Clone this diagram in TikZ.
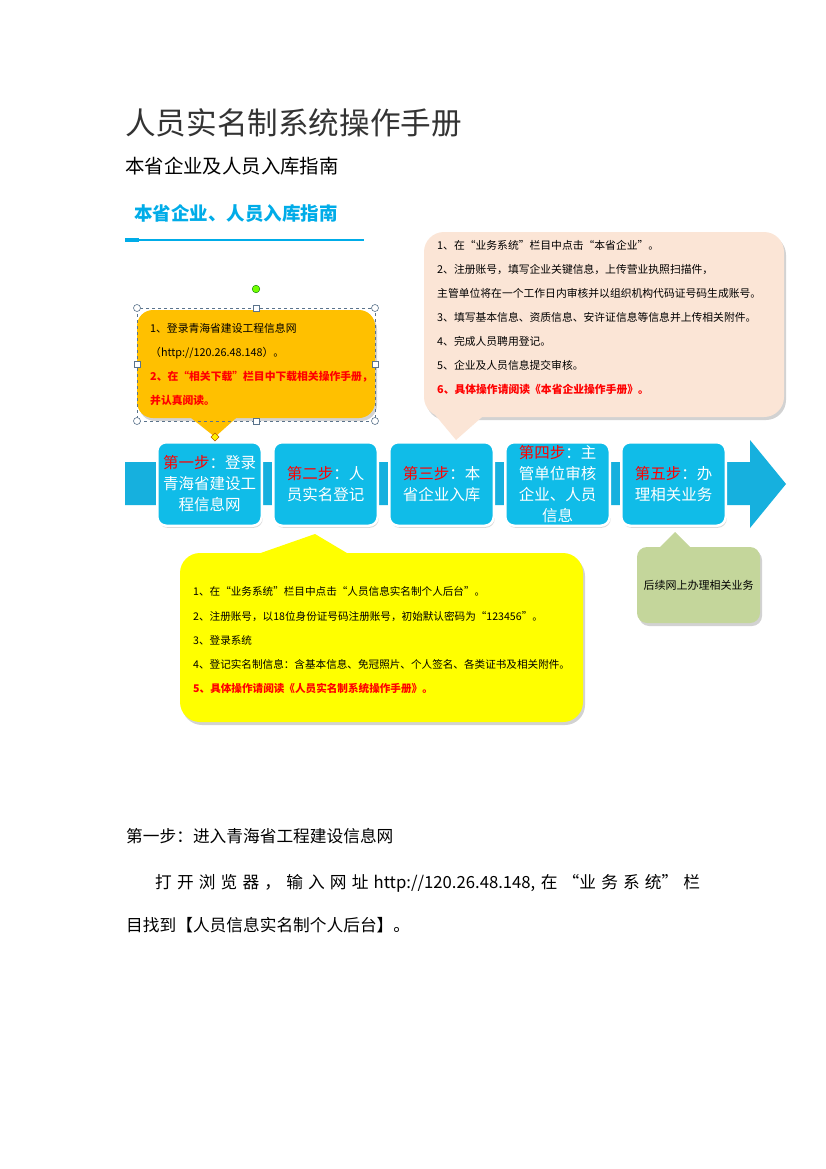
\documentclass[tikz,border=0pt]{standalone}
\usepackage{fontspec}
\setmainfont{Noto Sans CJK SC}
\usetikzlibrary{shadows,positioning}

\definecolor{headblue}{RGB}{0,172,232}
\definecolor{bandblue}{RGB}{22,176,222}
\definecolor{stepblue}{RGB}{16,188,232}
\definecolor{bubbleorange}{RGB}{255,192,0}
\definecolor{bubblepeach}{RGB}{251,229,214}
\definecolor{bubbleyellow}{RGB}{255,255,0}
\definecolor{bubblegreen}{RGB}{196,214,155}
\definecolor{framegrey}{RGB}{90,115,140}

\newcommand\stepno[1]{\textcolor{red}{#1}}
\newcommand\redline[1]{\textcolor{red}{\bfseries #1}}

\tikzset{
  stepbox/.style={rounded corners=9pt, fill=stepblue, draw=white, line width=2.5pt,
    minimum width=104.5pt, minimum height=83.5pt, inner sep=1pt, align=center, text=white,
    font=\fontsize{15.5}{21}\selectfont,
    drop shadow={shadow xshift=1pt, shadow yshift=-2pt, opacity=.3}},
  bubble/.style={rounded corners=16pt, inner sep=0pt,
    drop shadow={shadow xshift=2pt, shadow yshift=-3pt, opacity=.35}},
  bubbletext/.style={anchor=north west, inner sep=0pt, align=left,
    font=\fontsize{10.8}{24}\selectfont},
  handle/.style={framegrey, fill=white, line width=.6pt}
}

\begin{document}
\begin{tikzpicture}[x=1pt,y=-1pt]
  % Page
  \useasboundingbox (0,0) rectangle (826,1169);
  \fill[white] (0,0) rectangle (826,1169);

  % Headings
  \node[anchor=west, inner sep=0pt, text=black!80, font=\fontsize{30.6}{30.6}\selectfont] (title) at (125,123) {人员实名制系统操作手册};
  \node[anchor=west, inner sep=0pt, font=\fontsize{19.4}{19.4}\selectfont] (subtitle) at (125,166) {本省企业及人员入库指南};
  \node[anchor=west, inner sep=0pt, text=headblue, font=\fontsize{18.5}{18.5}\selectfont\bfseries] (heading) at (134,213) {本省企业、人员入库指南};
  \draw[headblue, line width=1.2pt] (125,240) -- (364,240);
  \fill[headblue] (125,238) rectangle (139,242);

  % Flow band
  \fill[bandblue] (125,462) -- (750,462) -- (750,440) -- (786,484) -- (750,528) -- (750,505) -- (125,505) -- cycle;

  % Steps
  \node[stepbox] (s1) at (209.5,484) {\stepno{第一步}：登录\\青海省建设工\\程信息网};
  \node[stepbox, right=9pt of s1] (s2) {\stepno{第二步}：人\\员实名登记};
  \node[stepbox, right=9pt of s2] (s3) {\stepno{第三步}：本\\省企业入库};
  \node[stepbox, right=9pt of s3] (s4) {\stepno{第四步}：主\\管单位审核\\企业、人员\\信息};
  \node[stepbox, right=9pt of s4] (s5) {\stepno{第五步}：办\\理相关业务};

  % Step 1 callout
  \node[bubble, fill=bubbleorange, minimum width=238pt, minimum height=108pt] (orangebox) at (256,364) {};
  \coordinate (orangetip) at (215,437);
  \fill[bubbleorange] (181,410) -- (orangetip) -- (245,410) -- cycle;
  \node[bubbletext] (orangetext) at (150,323.5) {1、登录青海省建设工程信息网\\（http://120.26.48.148）。\\\redline{2、在“相关下载”栏目中下载相关操作手册，}\\\redline{并认真阅读。}};

  % selection frame
  \draw[framegrey, dashed, line width=.6pt] (137,308) rectangle (375,421);
  \foreach \p in {(137,308),(375,308),(137,421),(375,421)}
    \draw[handle] \p circle (3.5pt);
  \foreach \p in {(256,308),(256,421),(137,364.5),(375,364.5)}
    \draw[handle] \p ++(-3,-3) rectangle ++(6,6);
  \draw[green!45!black, fill=green!55!yellow, line width=.4pt] (256,289) circle (3.8pt);
  \draw[orange!70!black, fill=yellow, line width=.4pt] (orangetip) ++(0,-4) -- ++(4,4) -- ++(-4,4) -- ++(-4,-4) -- cycle;

  % Step 3 callout
  \node[bubble, fill=bubblepeach, rounded corners=20pt, minimum width=360pt, minimum height=185pt] (peachbox) at (604,324.5) {};
  \coordinate (peachtip) at (456,440);
  \fill[bubblepeach] (431,410) -- (peachtip) -- (490,410) -- cycle;
  \node[bubbletext] (peachtext) at (437,240.5) {1、在“业务系统”栏目中点击“本省企业”。\\2、注册账号，填写企业关键信息，上传营业执照扫描件，\\主管单位将在一个工作日内审核并以组织机构代码证号码生成账号。\\3、填写基本信息、资质信息、安许证信息等信息并上传相关附件。\\4、完成人员聘用登记。\\5、企业及人员信息提交审核。\\\redline{6、具体操作请阅读《本省企业操作手册》。}};

  % Step 2 callout
  \node[bubble, fill=bubbleyellow, rounded corners=20pt, minimum width=403pt, minimum height=169pt] (yellowbox) at (381.5,637.5) {};
  \coordinate (yellowtip) at (315,534);
  \fill[bubbleyellow] (235,562) -- (yellowtip) -- (362,562) -- cycle;
  \node[bubbletext, font=\fontsize{10.6}{24.3}\selectfont] (yellowtext) at (193,586.5) {1、在“业务系统”栏目中点击“人员信息实名制个人后台”。\\2、注册账号，以18位身份证号码注册账号，初始默认密码为“123456”。\\3、登录系统\\4、登记实名制信息：含基本信息、免冠照片、个人签名、各类证书及相关附件。\\\redline{5、具体操作请阅读《人员实名制系统操作手册》。}};

  % Step 5 callout
  \node[bubble, fill=bubblegreen, rounded corners=10pt, minimum width=123pt, minimum height=76pt] (greenbox) at (698.5,585) {};
  \coordinate (greentip) at (675,532);
  \fill[bubblegreen] (655,552) -- (greentip) -- (695,552) -- cycle;
  \node[inner sep=0pt, font=\fontsize{11}{11}\selectfont] (greentext) at (greenbox) {后续网上办理相关业务};

  % Body text
  \node[anchor=west, inner sep=0pt, font=\fontsize{16.7}{16.7}\selectfont] (bodyhead) at (126,836) {第一步：进入青海省工程建设信息网};
  \node[anchor=west, inner sep=0pt, font=\fontsize{16.7}{16.7}\selectfont] (bodyline) at (155,883) {\makebox[545pt][s]{打 开 浏 览 器 ， 输 入 网 址 http://120.26.48.148, 在 “业 务 系 统” 栏}};
  \node[anchor=west, inner sep=0pt, font=\fontsize{16.7}{16.7}\selectfont] (bodyend) at (126,925) {目找到【人员信息实名制个人后台】。};
\end{tikzpicture}
\end{document}
